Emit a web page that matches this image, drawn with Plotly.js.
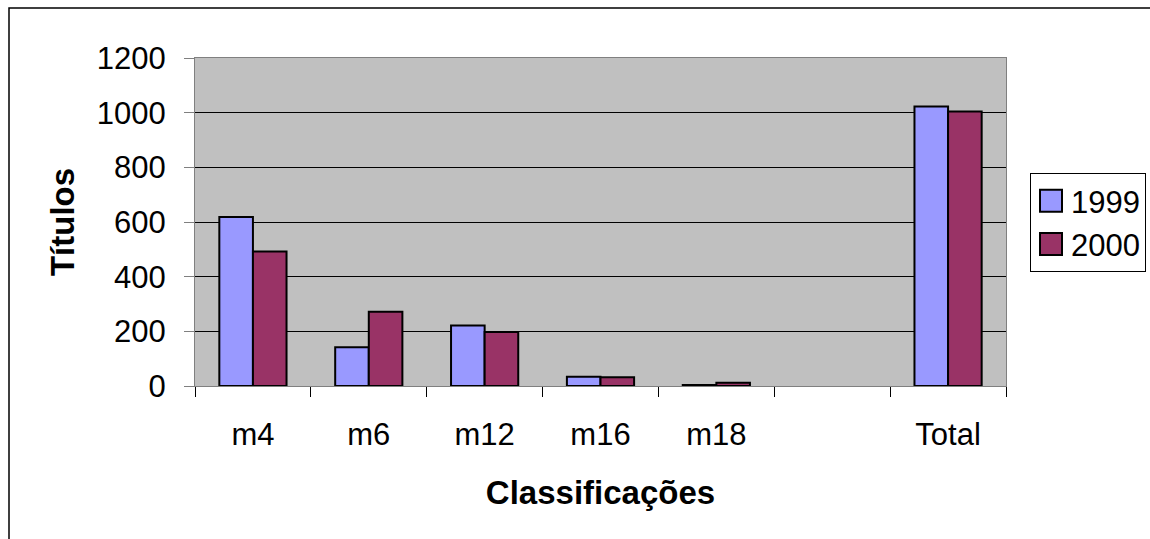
<!DOCTYPE html>
<html>
<head>
<meta charset="utf-8">
<script src="https://cdn.plot.ly/plotly-3.0.1.min.js"></script>
<style>html,body{margin:0;padding:0;background:#fff;}#chart{width:1150px;height:539px;}</style>
</head>
<body>
<div id="chart"></div>
<script>
const categories = ["m4", "m6", "m12", "m16", "m18", " ", "Total"];
const seriesNames = ["1999", "2000"];
const values1999 = [618, 142, 221, 34, 4, null, 1023];
const values2000 = [492, 272, 198, 32, 12, null, 1004];
const yTicks = [0, 200, 400, 600, 800, 1000, 1200];

const fontFam = "'Liberation Sans', Arial, sans-serif";

const traces = [
  {type: "bar", name: seriesNames[0], x: categories, y: values1999,
   marker: {color: "#9999FF", line: {color: "#000000", width: 2}}},
  {type: "bar", name: seriesNames[1], x: categories, y: values2000,
   marker: {color: "#993366", line: {color: "#000000", width: 2}}}
];

const layout = {
  width: 1150, height: 539,
  margin: {l: 195, r: 144, t: 58, b: 153, autoexpand: false},
  paper_bgcolor: "#ffffff",
  plot_bgcolor: "#C0C0C0",
  font: {family: fontFam, color: "#000", size: 31},
  barmode: "group",
  bargap: 0.42,
  bargroupgap: 0,
  showlegend: true,
  legend: {
    x: 1.0296, xanchor: "left", y: 0.649, yanchor: "top",
    bordercolor: "#000", borderwidth: 1, bgcolor: "#fff",
    font: {family: fontFam, size: 31, color: "#000"},
    tracegroupgap: 0, entrywidth: 150
  },
  xaxis: {
    type: "category",
    categoryorder: "array", categoryarray: categories,
    tickson: "boundaries",
    ticks: "outside", ticklen: 10, tickwidth: 1, tickcolor: "#000",
    showline: true, linecolor: "#808080", linewidth: 1, mirror: true,
    showgrid: false, zeroline: false,
    tickfont: {family: fontFam, size: 31, color: "#000"},
    ticklabelstandoff: 21,
    automargin: false,
    title: {text: "Classificações", font: {family: fontFam, size: 33, color: "#000", weight: "bold"}, standoff: 29},
    fixedrange: true
  },
  yaxis: {
    range: [0, 1200],
    tickvals: yTicks, ticktext: yTicks.map(String),
    ticks: "outside", ticklen: 10, tickwidth: 1, tickcolor: "#808080",
    showline: true, linecolor: "#808080", linewidth: 1, mirror: true,
    showgrid: true, gridcolor: "#000000", gridwidth: 1,
    zeroline: false,
    tickfont: {family: fontFam, size: 31, color: "#000"},
    ticklabelstandoff: 12,
    automargin: false,
    title: {text: "Títulos", font: {family: fontFam, size: 33, color: "#000", weight: "bold"}, standoff: 12},
    fixedrange: true
  },
  shapes: [
    {type: "rect", xref: "paper", yref: "paper",
     x0: (9 - 195) / 811, x1: (1170 - 195) / 811,
     y0: (386 - 560) / 328, y1: (386 - 8) / 328,
     line: {color: "#000", width: 1.5}, fillcolor: "rgba(0,0,0,0)", layer: "below"}
  ]
};

Plotly.newPlot("chart", traces, layout, {staticPlot: true, displayModeBar: false}).then(function () {
  document.querySelectorAll("#chart .legendpoints path").forEach(function (p) {
    p.setAttribute("d", "M11,11H-11V-11H11Z");
    p.style.strokeWidth = "2px";
  });
});
</script>
</body>
</html>
